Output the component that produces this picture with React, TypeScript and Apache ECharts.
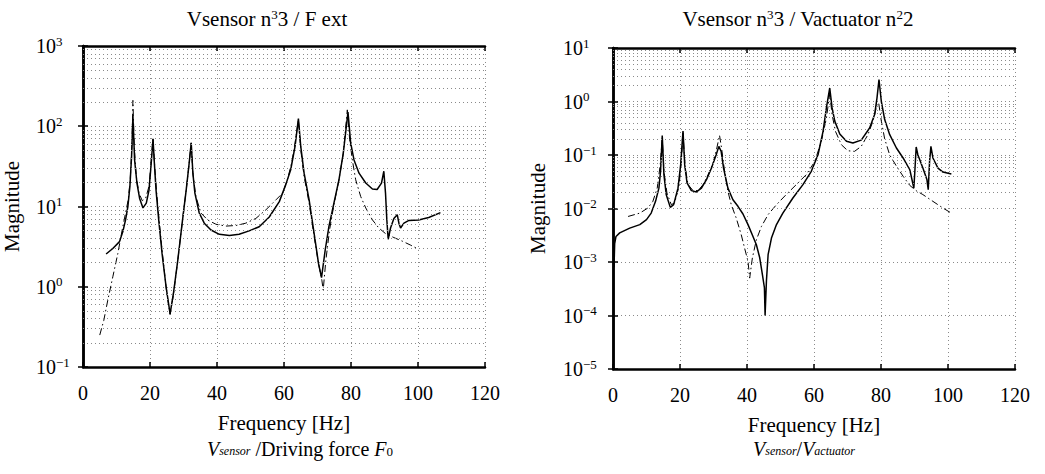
import React, { useEffect, useRef } from "react";
import * as echarts from "echarts";

// ---------- data ----------
// Left panel: V_sensor / Driving force F0
const leftSolidFreq = [6.9, 8.9, 10.9, 11.9, 12.7, 13.4, 14.0, 14.5, 14.9, 15.4, 16.1, 16.9, 17.9, 18.9, 19.7, 20.3, 20.9, 21.3, 21.8, 22.6, 23.6, 24.8, 26.0, 27.0, 28.3, 29.6, 30.8, 31.6, 32.3, 32.8, 33.4, 34.7, 36.2, 38.2, 40.7, 43.7, 46.6, 49.6, 52.6, 55.6, 58.6, 60.5, 62.0, 63.3, 64.3, 65.0, 66.0, 67.5, 69.0, 70.3, 71.2, 72.3, 73.4, 74.9, 76.4, 77.7, 79.1, 79.9, 80.9, 82.4, 84.4, 86.4, 87.8, 89.1, 89.8, 90.3, 90.7, 91.1, 91.8, 92.8, 93.8, 94.3, 94.8, 95.8, 97.3, 100.2, 103.2, 106.7];
const leftSolidMag = [2.56, 3.0, 3.65, 4.87, 6.8, 10, 17.8, 42, 135, 38, 19.6, 12.6, 9.6, 11, 16, 32, 70, 35, 16, 6.8, 2.6, 1.0, 0.46, 0.83, 2.15, 6.2, 16, 32, 62, 26, 14.7, 8.3, 6.2, 5.1, 4.5, 4.34, 4.5, 4.97, 5.6, 7.4, 11.5, 18.6, 28.7, 56, 125, 56, 26, 12.1, 4.6, 1.95, 1.3, 2.87, 5.6, 11, 21.5, 46.4, 150, 62, 38, 26, 19.6, 16.5, 16.3, 19.6, 27.5, 14.7, 6.8, 3.9, 5.4, 7.1, 7.9, 6.2, 5.4, 6.2, 6.7, 6.8, 7.3, 8.4];
const leftDashFreq = [5.0, 6.2, 7.4, 8.9, 10.4, 11.7, 12.7, 13.5, 14.1, 14.6, 14.9, 15.3, 15.9, 16.7, 17.7, 18.7, 19.7, 20.3, 20.9, 21.4, 22.0, 22.8, 23.8, 25.0, 26.0, 27.0, 28.3, 29.6, 30.8, 31.6, 32.3, 32.8, 33.7, 35.2, 37.2, 39.7, 42.7, 45.7, 48.6, 51.6, 54.6, 57.6, 59.6, 61.0, 62.3, 63.3, 64.3, 65.0, 66.0, 67.5, 69.0, 70.3, 71.3, 71.7, 72.5, 73.6, 74.9, 76.4, 77.7, 78.9, 79.6, 80.4, 81.4, 82.9, 84.4, 86.4, 88.3, 90.3, 92.8, 95.3, 97.8, 100.2];
const leftDashMag = [0.25, 0.38, 0.68, 1.33, 2.6, 5.1, 8.3, 12.1, 21.5, 56, 210, 56, 23.7, 14.7, 11.8, 12.7, 17.8, 35, 72, 31.6, 14.7, 6.2, 2.4, 0.83, 0.45, 0.79, 2.15, 6.2, 16, 32, 62, 26, 13.3, 8.3, 6.8, 6.0, 5.7, 5.8, 6.2, 7.1, 9.1, 12.1, 14.7, 21.5, 35, 62, 120, 51, 23.7, 11, 4.2, 1.95, 1.21, 0.91, 2.15, 5.1, 10.5, 21.5, 46, 160, 68, 38, 21.5, 13.3, 9.6, 6.8, 5.4, 4.6, 4.1, 3.7, 3.3, 2.93];

// Right panel: V_sensor / V_actuator
const rightSolidFreq = [0.3, 0.5, 0.9, 2.0, 5.0, 8.0, 10.0, 11.4, 12.7, 13.7, 14.2, 14.7, 15.2, 15.9, 17.1, 18.1, 19.4, 20.2, 20.9, 21.4, 22.1, 23.4, 24.9, 26.4, 27.9, 29.4, 30.8, 31.6, 32.3, 33.0, 34.3, 35.8, 37.3, 38.8, 40.3, 41.6, 42.8, 43.8, 44.6, 45.2, 45.4, 45.8, 46.3, 47.3, 48.8, 50.7, 53.7, 56.7, 59.2, 61.2, 62.7, 63.7, 64.7, 65.4, 66.2, 67.7, 69.7, 71.6, 74.1, 76.6, 78.1, 78.8, 79.4, 80.1, 81.1, 82.6, 84.6, 86.6, 88.6, 89.8, 90.1, 90.5, 91.0, 92.5, 93.7, 94.1, 94.5, 94.9, 95.5, 97.0, 98.5, 101];
const rightSolidMag = [0.0008, 0.0022, 0.003, 0.0035, 0.0043, 0.005, 0.0062, 0.0082, 0.0136, 0.024, 0.05, 0.23, 0.043, 0.018, 0.0105, 0.0118, 0.024, 0.066, 0.28, 0.066, 0.030, 0.0216, 0.0204, 0.024, 0.0347, 0.057, 0.101, 0.145, 0.116, 0.057, 0.024, 0.0146, 0.011, 0.0079, 0.005, 0.0032, 0.0021, 0.0012, 0.00058, 0.00033, 0.0001, 0.00044, 0.00137, 0.0028, 0.005, 0.0082, 0.0157, 0.0279, 0.0495, 0.101, 0.277, 0.76, 1.79, 0.76, 0.43, 0.247, 0.18, 0.168, 0.19, 0.32, 0.57, 1.16, 2.56, 1.0, 0.46, 0.24, 0.135, 0.088, 0.053, 0.024, 0.049, 0.141, 0.101, 0.057, 0.035, 0.0225, 0.076, 0.145, 0.088, 0.057, 0.048, 0.044];
const rightDashFreq = [4.5, 8.0, 10.4, 11.9, 13.2, 14.1, 14.7, 15.2, 16.1, 17.4, 18.4, 19.7, 20.4, 20.9, 21.5, 22.4, 23.9, 25.4, 26.9, 28.4, 29.9, 31.0, 31.8, 32.4, 33.3, 34.3, 35.3, 36.8, 38.3, 39.3, 40.3, 40.8, 41.6, 42.8, 44.3, 46.3, 48.8, 51.7, 54.7, 57.7, 60.2, 62.2, 63.7, 64.7, 65.4, 66.4, 68.2, 70.1, 72.1, 74.1, 76.1, 77.6, 78.8, 79.3, 80.1, 81.1, 82.6, 84.6, 86.6, 88.6, 90.5, 92.5, 95.5, 98.5, 101];
const rightDashMag = [0.0071, 0.0082, 0.0102, 0.0136, 0.024, 0.066, 0.21, 0.05, 0.0195, 0.0118, 0.0127, 0.026, 0.075, 0.26, 0.062, 0.028, 0.0216, 0.0216, 0.028, 0.043, 0.071, 0.135, 0.233, 0.135, 0.05, 0.021, 0.0118, 0.0066, 0.0032, 0.0018, 0.00103, 0.0005, 0.00119, 0.0026, 0.0046, 0.0077, 0.0118, 0.0182, 0.0279, 0.043, 0.075, 0.18, 0.49, 1.4, 0.57, 0.277, 0.155, 0.12, 0.117, 0.145, 0.24, 0.43, 0.87, 0.95, 0.43, 0.2, 0.1, 0.062, 0.04, 0.027, 0.0215, 0.0182, 0.0136, 0.0102, 0.0082];

// axis ranges (decades)
const leftDecades = [-1, 0, 1, 2, 3];
const rightDecades = [-5, -4, -3, -2, -1, 0, 1];
const freqRange = [0, 120];
const freqStep = 20;

const titles = ["Vsensor n{s|3}3 / F ext", "Vsensor n{s|3}3 / Vactuator n{s|2}2"];
const captions = ["{i|V}{is|sensor}{r| /Driving force }{i|F}{ss|0}", "{i|V}{is|sensor}{r|/}{i|V}{is|actuator}"];

const FONT = "Liberation Serif";

function pairs(f: number[], m: number[]) {
  return f.map((x, i) => [x, m[i]]);
}
function minorValues(decades: number[]) {
  const out: number[] = [];
  for (let d = 0; d < decades.length - 1; d++) {
    const base = Math.pow(10, decades[d]);
    for (let k = 2; k <= 9; k++) out.push(+(k * base).toPrecision(3));
  }
  return out;
}
function expLabel(v: number) {
  const e = Math.round(Math.log10(v));
  return `{b|10}{s|${e < 0 ? "\u2212" + -e : e}}`;
}

const gridLine = { type: [1, 3] as any, color: "#8a8a8a", width: 1 };
const labelRich = {
  b: { fontFamily: FONT, fontSize: 20, color: "#000" },
  s: { fontFamily: FONT, fontSize: 13, color: "#000", padding: [0, 0, 10, 0] },
};

export default function App() {
  const ref = useRef<HTMLDivElement>(null);
  useEffect(() => {
    document.body.style.margin = "0";
    if (!ref.current) return;
    const chart = echarts.init(ref.current, null, { renderer: "svg" });

    const grids = [
      { left: 82, top: 46, width: 403, height: 321 },
      { left: 613, top: 48, width: 402, height: 321 },
    ];
    const decs = [leftDecades, rightDecades];

    const xAxis: any[] = [];
    const yAxis: any[] = [];
    grids.forEach((_, g) => {
      const axisLine = { show: true, lineStyle: { color: "#000", width: 2.5 } };
      const axisTick = { show: true, inside: true, length: 5, lineStyle: { color: "#000", width: 1.5 } };
      xAxis.push({
        gridIndex: g, type: "value", min: freqRange[0], max: freqRange[1], interval: freqStep,
        position: "bottom", axisLine, axisTick,
        axisLabel: { fontFamily: FONT, fontSize: 20, color: "#000", margin: 16 },
        splitLine: { show: true, lineStyle: gridLine },
        name: "Frequency [Hz]", nameLocation: "middle", nameGap: 45,
        nameTextStyle: { fontFamily: FONT, fontSize: 21, color: "#000" },
      });
      xAxis.push({
        gridIndex: g, type: "value", min: freqRange[0], max: freqRange[1], interval: freqStep,
        position: "top", axisLine, axisTick, axisLabel: { show: false }, splitLine: { show: false },
      });
      const d = decs[g];
      const minV = Math.pow(10, d[0]);
      const maxV = Math.pow(10, d[d.length - 1]);
      yAxis.push({
        gridIndex: g, type: "log", logBase: 10, min: minV, max: maxV, splitNumber: d.length - 1,
        position: "left", axisLine, axisTick,
        axisLabel: { formatter: expLabel, rich: labelRich, align: "left", margin: g === 0 ? 47 : 50, fontFamily: FONT },
        splitLine: { show: true, lineStyle: gridLine },
        name: "Magnitude", nameLocation: "middle", nameRotate: 90, nameGap: g === 0 ? 61 : 65,
        nameTextStyle: { fontFamily: FONT, fontSize: 21, color: "#000" },
      });
      yAxis.push({
        gridIndex: g, type: "log", logBase: 10, min: minV, max: maxV, splitNumber: d.length - 1,
        position: "right", axisLine, axisTick, axisLabel: { show: false }, splitLine: { show: false },
      });
    });

    const solid = (name: string, g: number, f: number[], m: number[]) => ({
      name, type: "line", xAxisIndex: g * 2, yAxisIndex: g * 2, data: pairs(f, m),
      showSymbol: false, symbol: "none", lineStyle: { color: "#000", width: 1.5 }, z: 3,
      markLine: {
        silent: true, symbol: "none", animation: false, label: { show: false },
        lineStyle: gridLine, data: minorValues(decs[g]).map((v) => ({ yAxis: v })),
      },
    });
    const dashed = (name: string, g: number, f: number[], m: number[]) => ({
      name, type: "line", xAxisIndex: g * 2, yAxisIndex: g * 2, data: pairs(f, m),
      showSymbol: false, symbol: "none", lineStyle: { color: "#000", width: 1, type: [7, 3, 1.5, 3] }, z: 2,
    });

    const capRich = {
      i: { fontFamily: FONT, fontSize: 20, fontStyle: "italic", color: "#000", padding: [0, 0, 4, 0] },
      r: { fontFamily: FONT, fontSize: 20, color: "#000", padding: [0, 0, 4, 0] },
      is: { fontFamily: FONT, fontSize: 12, fontStyle: "italic", color: "#000" },
      ss: { fontFamily: FONT, fontSize: 13, color: "#000" },
    };
    const titleRich = { s: { fontFamily: FONT, fontSize: 13, color: "#000", padding: [0, 0, 9, 0] } };
    const titleStyle = (size: number, rich: any) => ({
      fontFamily: FONT, fontSize: size, fontWeight: "normal", color: "#000", rich,
    });

    chart.setOption({
      animation: false,
      backgroundColor: "#fff",
      textStyle: { fontFamily: FONT },
      title: [
        { text: titles[0], left: 267, top: 8, textAlign: "center", padding: 0, textStyle: titleStyle(21, titleRich) },
        { text: titles[1], left: 798, top: 8, textAlign: "center", padding: 0, textStyle: titleStyle(21, titleRich) },
        { text: captions[0], left: 300, top: 439, textAlign: "center", padding: 0, textStyle: titleStyle(20, capRich) },
        { text: captions[1], left: 804, top: 439, textAlign: "center", padding: 0, textStyle: titleStyle(20, capRich) },
      ],
      grid: grids.map((g) => ({ ...g, show: false, containLabel: false })),
      xAxis, yAxis,
      series: [
        dashed("Left model", 0, leftDashFreq, leftDashMag),
        solid("Left measured", 0, leftSolidFreq, leftSolidMag),
        dashed("Right model", 1, rightDashFreq, rightDashMag),
        solid("Right measured", 1, rightSolidFreq, rightSolidMag),
      ],
    });
    return () => chart.dispose();
  }, []);
  return <div ref={ref} style={{ width: 1045, height: 474 }} />;
}
